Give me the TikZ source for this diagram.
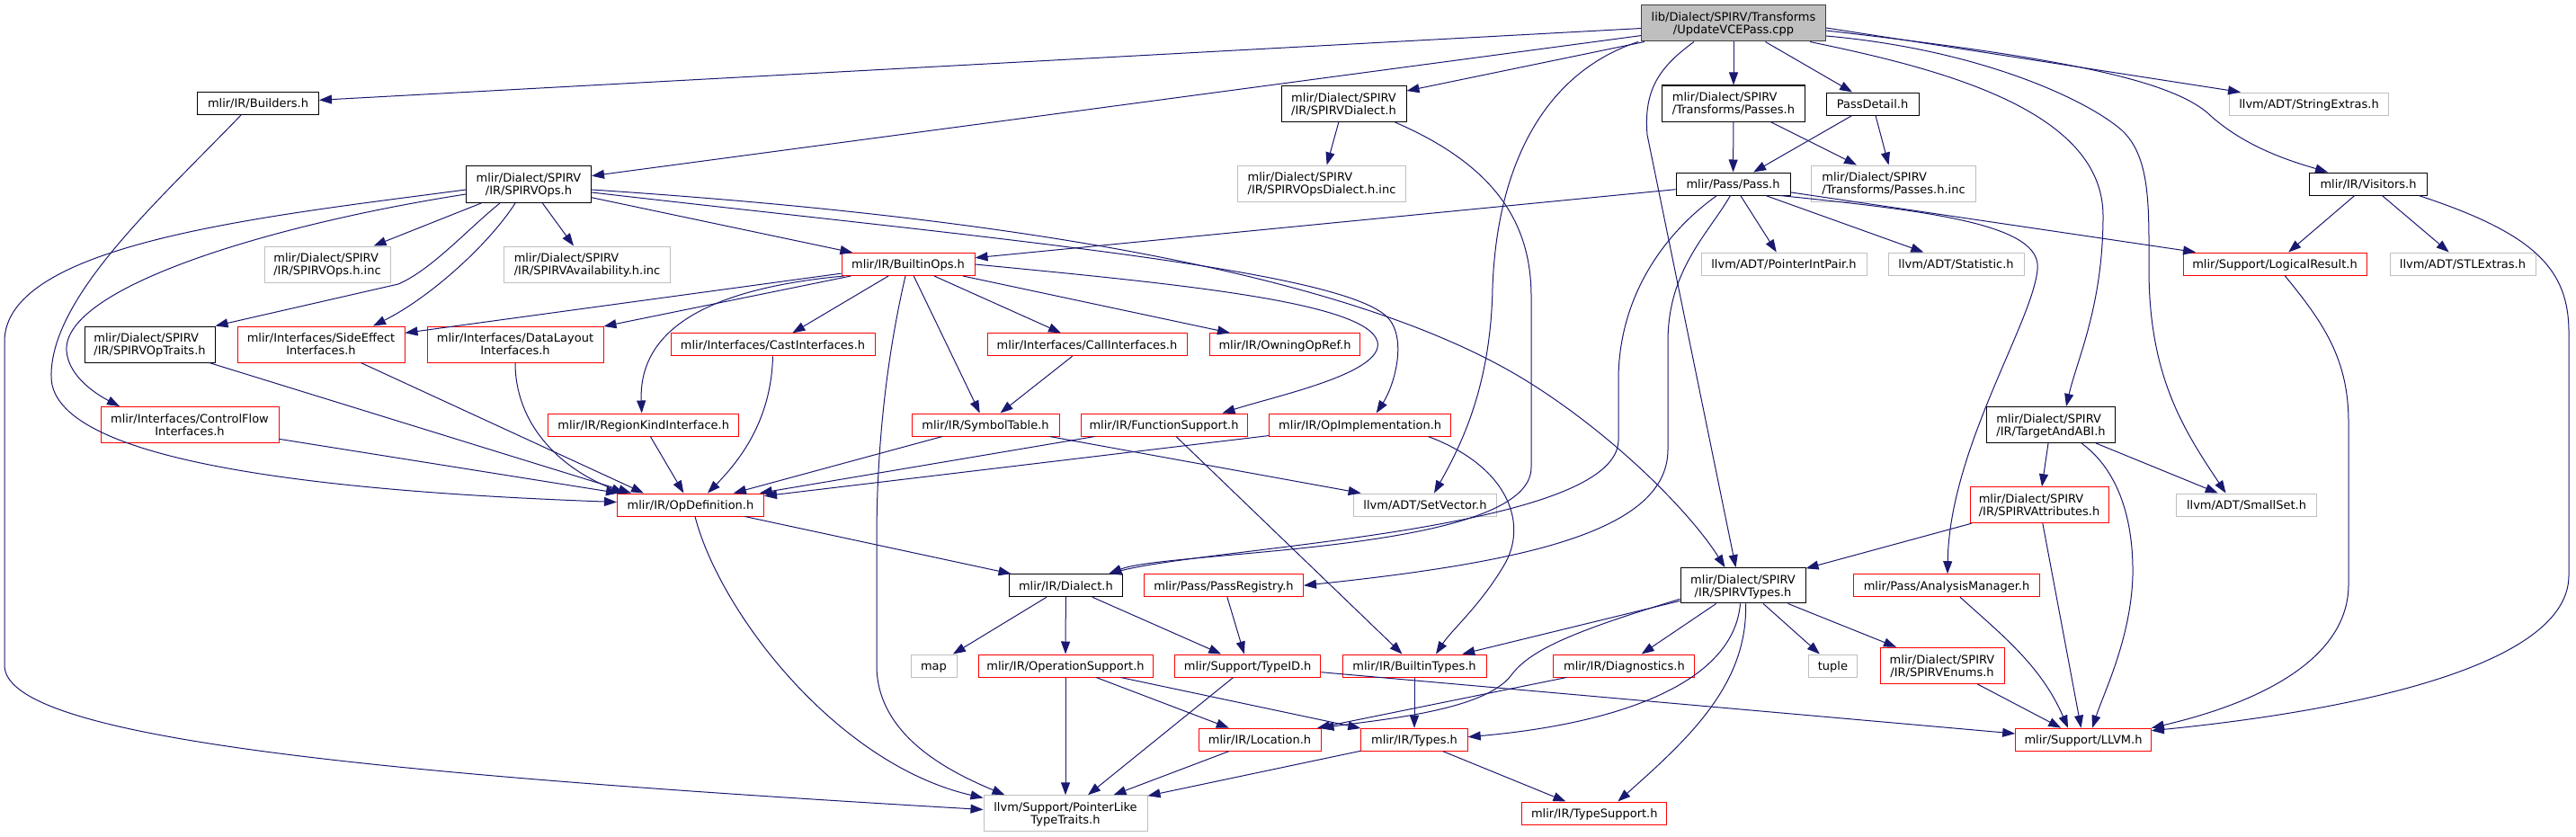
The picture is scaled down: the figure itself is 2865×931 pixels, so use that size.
\documentclass[tikz,border=0pt]{standalone}
\usepackage{fontspec}
\setmainfont{DejaVu Sans}
\usepackage{tikz}
\usetikzlibrary{arrows.meta,calc}
\definecolor{edgeblue}{HTML}{191970}
\newcommand{\twoline}[2]{\begin{tabular}[b]{@{}l@{}}#1\\\multicolumn{1}{@{}c@{}}{#2}\end{tabular}}

\begin{document}
\begin{tikzpicture}[x=0.75pt,y=-0.75pt,
  hdr/.style={draw,fill=white,inner sep=0pt,line width=0.75pt,
              font=\fontsize{9.75}{10.5}\selectfont,text height=7.2pt,text depth=0pt},
  doc/.style={hdr,draw=black},
  trunc/.style={hdr,draw=red},
  ext/.style={hdr,draw=black!25},
  rootnode/.style={hdr,draw=black!75,fill=black!25},
  sz/.style 2 args={minimum width=#1*0.75pt,minimum height=#2*0.75pt},
  two/.style={text height=17.7pt},
  inc/.style={-{Triangle[length=10.5pt,width=7.5pt]},draw=edgeblue,line width=0.75pt}]
  \useasboundingbox (0,0) rectangle (2865,931);

  \node[rootnode,sz={205}{40},two] (main) at (1928,26) {\twoline{lib/Dialect/SPIRV/Transforms}{/UpdateVCEPass.cpp}};
  \node[doc,sz={135}{25}]   (builders)     at (287,115)    {mlir/IR/Builders.h};
  \node[doc,sz={139}{40},two] (spirvdialect) at (1494.5,115.5) {\twoline{mlir/Dialect/SPIRV}{/IR/SPIRVDialect.h}};
  \node[doc,sz={159}{40},two] (passes)     at (1928,115)   {\twoline{mlir/Dialect/SPIRV}{/Transforms/Passes.h}};
  \node[doc,sz={103}{25}]   (passdetail)   at (2082.5,115.5) {PassDetail.h};
  \node[ext,sz={177}{25}]   (stringextras) at (2568,115.5) {llvm/ADT/StringExtras.h};
  \node[doc,sz={139}{41},two] (spirvops)   at (588,205)    {\twoline{mlir/Dialect/SPIRV}{/IR/SPIRVOps.h}};
  \node[ext,sz={140}{40},two] (opsinc)     at (364,294)    {\twoline{mlir/Dialect/SPIRV}{/IR/SPIRVOps.h.inc}};
  \node[ext,sz={185}{40},two] (availinc)   at (653,294)    {\twoline{mlir/Dialect/SPIRV}{/IR/SPIRVAvailability.h.inc}};
  \node[trunc,sz={148}{25}] (builtinops)   at (1010,294)   {mlir/IR/BuiltinOps.h};
  \node[ext,sz={187}{40},two] (opsdialectinc) at (1470,204) {\twoline{mlir/Dialect/SPIRV}{/IR/SPIRVOpsDialect.h.inc}};
  \node[doc,sz={127}{25}]   (pass)         at (1927.5,204.5) {mlir/Pass/Pass.h};
  \node[ext,sz={183}{40},two] (passesinc)  at (2106,204)   {\twoline{mlir/Dialect/SPIRV}{/Transforms/Passes.h.inc}};
  \node[doc,sz={131}{25}]   (visitors)     at (2634,204.5) {mlir/IR/Visitors.h};
  \node[ext,sz={184}{25}]   (pointerintpair) at (1984,293.5) {llvm/ADT/PointerIntPair.h};
  \node[ext,sz={151}{25}]   (statistic)    at (2175.5,293.5) {llvm/ADT/Statistic.h};
  \node[trunc,sz={204}{25}] (logicalresult) at (2530,293.5) {mlir/Support/LogicalResult.h};
  \node[ext,sz={162}{25}]   (stlextras)    at (2739,293.5) {llvm/ADT/STLExtras.h};
  \node[doc,sz={145}{40},two] (optraits)   at (166.5,383)  {\twoline{mlir/Dialect/SPIRV}{/IR/SPIRVOpTraits.h}};
  \node[trunc,sz={186}{40},two] (sideeffect) at (357,383)  {\twoline{mlir/Interfaces/SideEffect}{Interfaces.h}};
  \node[trunc,sz={196}{40},two] (datalayout) at (573,383)  {\twoline{mlir/Interfaces/DataLayout}{Interfaces.h}};
  \node[trunc,sz={227}{25}] (castif)       at (859.5,383.3) {mlir/Interfaces/CastInterfaces.h};
  \node[trunc,sz={222}{25}] (callif)       at (1209,383.3) {mlir/Interfaces/CallInterfaces.h};
  \node[trunc,sz={167.5}{25}] (owning)     at (1429,383.3) {mlir/IR/OwningOpRef.h};
  \node[trunc,sz={198}{40},two] (controlflow) at (211,472.5) {\twoline{mlir/Interfaces/ControlFlow}{Interfaces.h}};
  \node[trunc,sz={212}{25}] (regionkind)   at (715.7,472.5) {mlir/IR/RegionKindInterface.h};
  \node[trunc,sz={164}{25}] (symboltable)  at (1096,472.5) {mlir/IR/SymbolTable.h};
  \node[trunc,sz={185}{25}] (funcsupport)  at (1294.5,472.5) {mlir/IR/FunctionSupport.h};
  \node[trunc,sz={202.5}{25}] (opimpl)     at (1512.7,472.5) {mlir/IR/OpImplementation.h};
  \node[doc,sz={143}{40},two] (targetabi)  at (2281,472.5) {\twoline{mlir/Dialect/SPIRV}{/IR/TargetAndABI.h}};
  \node[trunc,sz={163}{25}] (opdef)        at (768,561.5)  {mlir/IR/OpDefinition.h};
  \node[ext,sz={158.5}{25}] (setvector)    at (1585,561.5) {llvm/ADT/SetVector.h};
  \node[trunc,sz={154}{40},two] (spirvattr) at (2268,561.7) {\twoline{mlir/Dialect/SPIRV}{/IR/SPIRVAttributes.h}};
  \node[ext,sz={156}{25}]   (smallset)     at (2498.5,561.5) {llvm/ADT/SmallSet.h};
  \node[doc,sz={126.7}{25}] (dialect)      at (1185.4,651.2) {mlir/IR/Dialect.h};
  \node[trunc,sz={177}{25}] (passregistry) at (1361,651.2) {mlir/Pass/PassRegistry.h};
  \node[doc,sz={139}{39.3},two] (spirvtypes) at (1938.5,651.3) {\twoline{mlir/Dialect/SPIRV}{/IR/SPIRVTypes.h}};
  \node[trunc,sz={206.7}{25}] (analysismgr) at (2165,651.2) {mlir/Pass/AnalysisManager.h};
  \node[ext,sz={51}{25}]    (map)          at (1038.5,740.5) {map};
  \node[trunc,sz={194}{25}] (opsupport)    at (1185,740.5) {mlir/IR/OperationSupport.h};
  \node[trunc,sz={162.4}{25}] (typeid)     at (1387.7,740.5) {mlir/Support/TypeID.h};
  \node[trunc,sz={160}{25}] (builtintypes) at (1573,740.5) {mlir/IR/BuiltinTypes.h};
  \node[trunc,sz={157}{25}] (diagnostics)  at (1806.4,740.5) {mlir/IR/Diagnostics.h};
  \node[ext,sz={54.6}{25}]  (tuple)        at (2038.4,740.5) {tuple};
  \node[trunc,sz={138}{40},two] (spirvenums) at (2160,740.3) {\twoline{mlir/Dialect/SPIRV}{/IR/SPIRVEnums.h}};
  \node[trunc,sz={136}{25}] (location)     at (1401,822.7) {mlir/IR/Location.h};
  \node[trunc,sz={118.4}{25}] (types)      at (1573,822.7) {mlir/IR/Types.h};
  \node[trunc,sz={150.7}{25}] (llvm)       at (2317,822.7) {mlir/Support/LLVM.h};
  \node[ext,sz={182}{39.5},two] (pointerlike) at (1185,904.5) {\twoline{llvm/Support/PointerLike}{TypeTraits.h}};
  \node[trunc,sz={160.7}{25}] (typesupport) at (1773.3,904.5) {mlir/IR/TypeSupport.h};

  \draw[inc] (main) -- (builders);
  \draw[inc] (main) -- (spirvops);
  \draw[inc] (main) -- (spirvdialect);
  \draw[inc] ($(main.south west)+(-3,0)$) .. controls (1720,80) and (1665,180) .. (1660,320) .. controls (1658,430) and (1625,495) .. ($(setvector.north)+(10,0)$);
  \draw[inc] ($(main.south)+(-44,0)$) .. controls (1845,75) and (1828,100) .. (1832,150) -- ($(spirvtypes.north)+(-8,0)$);
  \draw[inc] (main) -- (passes);
  \draw[inc] (main) -- (passdetail);
  \draw[inc] ($(main.east)+(0,5)$) -- ($(stringextras.north west)+(13,0)$);
  \draw[inc] ($(main.east)+(0,8)$) .. controls (2300,65) and (2420,90) .. (2460,130) .. controls (2500,165) and (2550,180) .. ($(visitors.north west)+(21,0)$);
  \draw[inc] ($(main.east)+(0,14)$) .. controls (2200,55) and (2320,110) .. (2360,145) .. controls (2392,175) and (2390,230) .. (2390,300) .. controls (2390,420) and (2430,480) .. ($(smallset.north)+(-23,0)$);
  \draw[inc] ($(main.south east)+(-18,0)$) .. controls (2150,75) and (2339,120) .. (2339,240) .. controls (2339,340) and (2310,400) .. ($(targetabi.north)+(17,0)$);

  \draw[inc] ($(builders.south)+(-19,0)$) .. controls (180,220) and (55,330) .. (57,420) .. controls (60,520) and (400,548) .. ($(opdef.west)+(0,-3)$);

  \draw[inc] ($(spirvops.west)+(0,6)$) .. controls (300,240) and (5,270) .. (5,380) -- (5,740) .. controls (5,820) and (400,860) .. ($(pointerlike.west)+(0,-4)$);
  \draw[inc] ($(spirvops.west)+(0,11)$) .. controls (300,250) and (70,320) .. (74,390) .. controls (76,420) and (110,440) .. ($(controlflow.north)+(-78,0)$);
  \draw[inc] (spirvops) -- (opsinc);
  \draw[inc] ($(spirvops.south)+(-32,0)$) .. controls (520,255) and (480,300) .. (443,316) -- (optraits.north east);
  \draw[inc] ($(spirvops.south)+(-15,0)$) .. controls (545,270) and (480,330) .. ($(sideeffect.north)+(58,0)$);
  \draw[inc] (spirvops) -- (availinc);
  \draw[inc] (spirvops) -- (builtinops);
  \draw[inc] ($(spirvops.east)+(0,6)$) .. controls (1100,240) and (1500,300) .. (1700,425) .. controls (1796,485) and (1880,570) .. ($(spirvtypes.north)+(-20,0)$);
  \draw[inc] ($(spirvops.east)+(0,9)$) .. controls (1100,265) and (1500,300) .. (1545,355) .. controls (1565,380) and (1550,430) .. ($(opimpl.north)+(18,0)$);

  \draw[inc] (spirvdialect) -- (opsdialectinc);
  \draw[inc] ($(spirvdialect.south east)+(-13,0)$) .. controls (1665,185) and (1703,250) .. (1703,330) -- (1703,520) .. controls (1703,615) and (1300,612) .. ($(dialect.north east)+(-16,0)$);

  \draw[inc] ($(pass.south)+(-18,0)$) .. controls (1850,260) and (1801,330) .. (1800,420) -- (1800,490) .. controls (1798,590) and (1350,608) .. ($(dialect.north east)+(-16,0)$);
  \draw[inc] ($(pass.south)+(-3,0)$) .. controls (1900,260) and (1855,300) .. (1855,380) -- (1855,500) .. controls (1855,590) and (1700,625) .. (passregistry.east);
  \draw[inc] (pass) -- (builtinops);
  \draw[inc] (pass) -- (pointerintpair);
  \draw[inc] (pass) -- (statistic);
  \draw[inc] (pass) -- (logicalresult);
  \draw[inc] ($(pass.south east)+(-12,0)$) .. controls (2150,235) and (2272,250) .. (2266,300) .. controls (2260,360) and (2168,500) .. ($(analysismgr.north)+(1,0)$);

  \draw[inc] (passes) -- (pass);
  \draw[inc] (passes) -- (passesinc);
  \draw[inc] (passdetail) -- (pass);
  \draw[inc] (passdetail) -- (passesinc);

  \draw[inc] (visitors) -- (logicalresult);
  \draw[inc] (visitors) -- (stlextras);
  \draw[inc] ($(visitors.south east)+(-10,0)$) .. controls (2820,260) and (2857,300) .. (2857,370) -- (2857,640) .. controls (2857,740) and (2620,790) .. ($(llvm.east)+(0,-10)$);
  \draw[inc] ($(logicalresult.south)+(11,0)$) .. controls (2585,360) and (2612,400) .. (2612,470) -- (2612,650) .. controls (2612,730) and (2520,780) .. (llvm.north east);

  \draw[inc] (targetabi) -- (spirvattr);
  \draw[inc] (targetabi) -- (smallset);
  \draw[inc] ($(targetabi.south)+(34,0)$) .. controls (2352,520) and (2373,570) .. (2372,640) .. controls (2370,710) and (2340,770) .. ($(llvm.north)+(10,0)$);
  \draw[inc] (spirvattr) -- (spirvtypes);
  \draw[inc] (spirvattr) -- (llvm);
  \draw[inc] ($(analysismgr.south)+(15,0)$) .. controls (2225,705) and (2270,740) .. ($(llvm.north)+(-17,0)$);
  \draw[inc] (spirvenums) -- (llvm);
  \draw[inc] (typeid) -- (llvm);
  \draw[inc] (typeid) -- (pointerlike);

  \draw[inc] (dialect) -- (map);
  \draw[inc] (dialect) -- (opsupport);
  \draw[inc] (dialect) -- (typeid);
  \draw[inc] (passregistry) -- (typeid);
  \draw[inc] (opsupport) -- (pointerlike);
  \draw[inc] (opsupport) -- (location);
  \draw[inc] (opsupport) -- (types);
  \draw[inc] (location) -- (pointerlike);
  \draw[inc] (types) -- (pointerlike);
  \draw[inc] (types) -- (typesupport);
  \draw[inc] (builtintypes) -- (types);
  \draw[inc] (diagnostics) -- (location);

  \draw[inc] (spirvtypes) -- (builtintypes);
  \draw[inc] ($(spirvtypes.west)+(0,15)$) .. controls (1740,705) and (1700,725) .. (1680,752) .. controls (1650,790) and (1540,800) .. (location.north east);
  \draw[inc] (spirvtypes) -- (diagnostics);
  \draw[inc] ($(spirvtypes.south)+(-3,0)$) .. controls (1928,760) and (1800,805) .. ($(types.east)+(0,-3)$);
  \draw[inc] ($(spirvtypes.south)+(3,0)$) .. controls (1944,760) and (1880,820) .. ($(typesupport.north)+(26,0)$);
  \draw[inc] (spirvtypes) -- (tuple);
  \draw[inc] (spirvtypes) -- (spirvenums);

  \draw[inc] (builtinops) -- (sideeffect);
  \draw[inc] (builtinops) -- (datalayout);
  \draw[inc] ($(builtinops.south west)+(3,0)$) .. controls (800,320) and (710,360) .. ($(regionkind.north)+(-2,0)$);
  \draw[inc] (builtinops) -- (castif);
  \draw[inc] ($(builtinops.south)+(-3,0)$) .. controls (990,380) and (975,480) .. (975,600) -- (975,740) .. controls (975,820) and (1060,860) .. ($(pointerlike.north west)+(24,0)$);
  \draw[inc] (builtinops) -- (symboltable);
  \draw[inc] (builtinops) -- (callif);
  \draw[inc] (builtinops) -- (owning);
  \draw[inc] (builtinops.east) .. controls (1300,315) and (1520,335) .. (1532,380) .. controls (1540,415) and (1420,440) .. ($(funcsupport.north east)+(-28,0)$);

  \draw[inc] (opimpl) -- (opdef);
  \draw[inc] ($(opimpl.south east)+(-26,0)$) .. controls (1680,520) and (1700,585) .. (1672,630) .. controls (1645,675) and (1615,700) .. ($(builtintypes.north)+(24,0)$);
  \draw[inc] (symboltable) -- (opdef);
  \draw[inc] (symboltable) -- (setvector);
  \draw[inc] (funcsupport) -- (opdef);
  \draw[inc] (funcsupport) -- (builtintypes);
  \draw[inc] (callif) -- (symboltable);
  \draw[inc] (castif.south) .. controls (858,460) and (830,505) .. ($(opdef.north)+(19,0)$);
  \draw[inc] (regionkind) -- (opdef);
  \draw[inc] (sideeffect) -- ($(opdef.north west)+(30,0)$);
  \draw[inc] (datalayout.south) .. controls (573,470) and (620,520) .. ($(opdef.north west)+(8,0)$);
  \draw[inc] (optraits) -- ($(opdef.north west)+(16,0)$);
  \draw[inc] (controlflow) -- ($(opdef.north west)+(2,0)$);
  \draw[inc] (opdef) -- ($(dialect.north west)+(3,0)$);
  \draw[inc] ($(opdef.south)+(5,0)$) .. controls (800,680) and (930,850) .. ($(pointerlike.west)+(0,-17)$);
\end{tikzpicture}
\end{document}
